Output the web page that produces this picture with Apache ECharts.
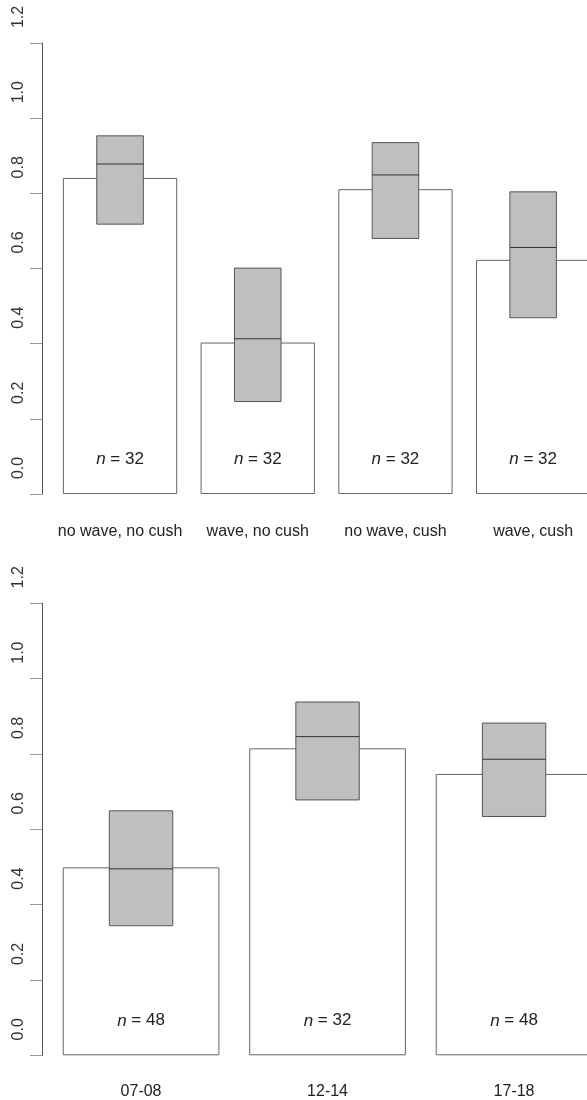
<!DOCTYPE html>
<html>
<head>
<meta charset="utf-8">
<script src="https://cdn.jsdelivr.net/npm/echarts@6/dist/echarts.min.js"></script>
<style>
html,body{margin:0;padding:0;background:#fff;overflow:hidden;}
#chart{width:587px;height:1100px;}
</style>
</head>
<body>
<div id="chart"></div>
<script>
// ---- data ----
const topCategories = ['no wave, no cush', 'wave, no cush', 'no wave, cush', 'wave, cush'];
const topMeans = [0.841, 0.403, 0.811, 0.623];
const topLow   = [0.718, 0.246, 0.680, 0.469];
const topMid   = [0.878, 0.413, 0.849, 0.656];
const topHigh  = [0.953, 0.601, 0.935, 0.804];
const topN     = [32, 32, 32, 32];

const bottomCategories = ['07-08', '12-14', '17-18'];
const bottomMeans = [0.499, 0.815, 0.747];
const bottomLow   = [0.344, 0.678, 0.634];
const bottomMid   = [0.495, 0.846, 0.786];
const bottomHigh  = [0.649, 0.938, 0.882];
const bottomN     = [48, 32, 48];

const yMin = 0, yMax = 1.2, yStep = 0.2;

// ---- chart ----
const chart = echarts.init(document.getElementById('chart'), null, {renderer: 'canvas'});
const FONT = 'Liberation Sans, Arial, sans-serif';

function yAxisCfg(gridIndex, offset) {
  return {
    type: 'value', gridIndex: gridIndex, min: yMin, max: yMax, interval: yStep,
    offset: offset,
    splitLine: {show: false},
    axisLine: {show: true, lineStyle: {color: '#555', width: 1}},
    axisTick: {show: true, length: 12, lineStyle: {color: '#999', width: 1}},
    axisLabel: {
      rotate: 90, margin: 15, fontSize: 16, color: '#333', fontFamily: FONT,
      padding: [0, 0, 0, 52],
      formatter: v => v.toFixed(1)
    }
  };
}
function xAxisCfg(gridIndex, cats, margin) {
  return {
    type: 'category', gridIndex: gridIndex, data: cats,
    axisLine: {show: false}, axisTick: {show: false}, splitLine: {show: false},
    axisLabel: {margin: margin, fontSize: 16, color: '#222', fontFamily: FONT, interval: 0, hideOverlap: false}
  };
}
function barSeries(idx, vals, ns, width) {
  return {
    type: 'bar', xAxisIndex: idx, yAxisIndex: idx, data: vals, barWidth: width,
    itemStyle: {color: '#fff', borderColor: '#666', borderWidth: 1},
    label: {
      show: true, position: 'insideBottom', distance: 26,
      fontSize: 17, color: '#222', fontFamily: FONT,
      formatter: p => '{i|n} = ' + ns[p.dataIndex],
      rich: {i: {fontStyle: 'italic', fontSize: 17, color: '#222', fontFamily: FONT}}
    },
    silent: true, animation: false, z: 2
  };
}
function boxSeries(idx, low, mid, high, frac) {
  return {
    type: 'custom', xAxisIndex: idx, yAxisIndex: idx,
    data: low.map((l, i) => [i, l, mid[i], high[i]]),
    encode: {x: 0, y: [1, 2, 3]},
    renderItem: function (params, api) {
      const i = api.value(0);
      const pLow = api.coord([i, api.value(1)]);
      const pMid = api.coord([i, api.value(2)]);
      const pHigh = api.coord([i, api.value(3)]);
      const w = api.size([1, 0])[0] * frac;
      const x0 = pLow[0] - w / 2;
      return {
        type: 'group',
        children: [
          {type: 'rect', shape: {x: x0, y: pHigh[1], width: w, height: pLow[1] - pHigh[1]},
           style: {fill: '#bfbfbf', stroke: '#555', lineWidth: 1}},
          {type: 'line', shape: {x1: x0, y1: pMid[1], x2: x0 + w, y2: pMid[1]},
           style: {stroke: '#333', lineWidth: 1}}
        ]
      };
    },
    silent: true, animation: false, z: 3
  };
}

chart.setOption({
  backgroundColor: '#fff',
  animation: false,
  grid: [
    {left: 51.2, width: 550.8, top: 43, height: 451, containLabel: false, outerBoundsMode: 'none'},
    {left: 47.8, width: 559.5, top: 603.3, height: 452, containLabel: false, outerBoundsMode: 'none'}
  ],
  xAxis: [xAxisCfg(0, topCategories, 30), xAxisCfg(1, bottomCategories, 28)],
  yAxis: [yAxisCfg(0, 9.2), yAxisCfg(1, 5.8)],
  series: [
    barSeries(0, topMeans, topN, '83%'),
    boxSeries(0, topLow, topMid, topHigh, 0.338),
    barSeries(1, bottomMeans, bottomN, '84%'),
    boxSeries(1, bottomLow, bottomMid, bottomHigh, 0.34)
  ]
});
</script>
</body>
</html>
